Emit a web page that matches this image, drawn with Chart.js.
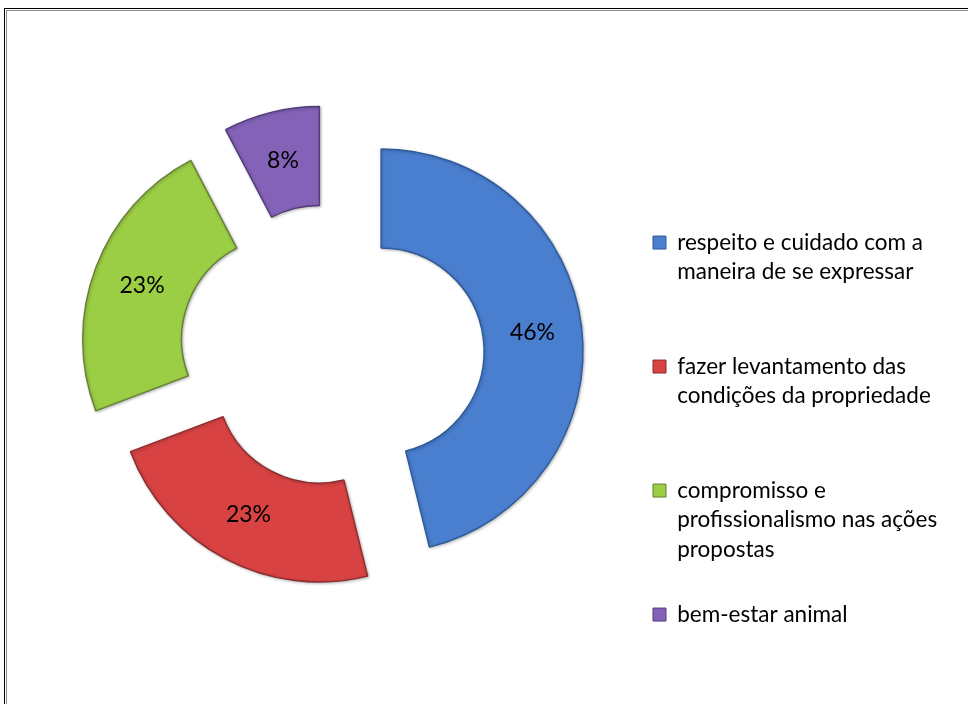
<!DOCTYPE html>
<html lang="pt-BR">
<head>
<meta charset="utf-8">
<title>Rosca</title>
<script src="https://cdn.jsdelivr.net/npm/chart.js@4.4.1/dist/chart.umd.min.js"></script>
<style>
  html, body { margin: 0; padding: 0; background: #fff; }
  #wrap { position: relative; width: 968px; height: 704px; overflow: hidden; }
  .frame-outer { position: absolute; left: 3.5px; top: 7.5px; right: -20px; bottom: -20px;
                 border-left: 1.5px solid #000; border-top: 1.5px solid #000; }
  .frame-inner { position: absolute; left: 6px; top: 10px; right: -20px; bottom: -20px;
                 border-left: 1.5px solid #8c8c8c; border-top: 1.5px solid #8c8c8c; }
  canvas { position: absolute; left: 0; top: 0; }
</style>
</head>
<body>
<div id="wrap">
  <div class="frame-outer"></div>
  <div class="frame-inner"></div>
  <canvas id="chart" width="968" height="704"></canvas>
</div>
<script>
// answers (number of mentions per category)
const categories = [
    ['respeito e cuidado com a', 'maneira de se expressar'],
    ['fazer levantamento das', 'condições da propriedade'],
    ['compromisso e', 'profissionalismo nas ações', 'propostas'],
    ['bem-estar animal']
];
const counts = [6, 3, 3, 1];

const sliceColors = ['#4A7ECF', '#D84242', '#9BCD45', '#8462B8'];
const edgeColors = ['#2D5B98', '#8B2E2E', '#667F33', '#503C78'];

const { DoughnutController, ArcElement } = Chart;

// Arc that is pushed out along its middle angle by `explode` pixels, without reshaping it
class ExplodedArc extends ArcElement {
    static id = 'explodedArc';
    static defaults = { explode: 0 };

    draw(ctx) {
        const push = this.options.explode || 0;
        const mid = (this.startAngle + this.endAngle) / 2;
        ctx.save();
        ctx.translate(Math.cos(mid) * push, Math.sin(mid) * push);
        ctx.shadowColor = 'rgba(0, 0, 0, 0.25)';
        ctx.shadowBlur = 3;
        ctx.shadowOffsetX = 1;
        ctx.shadowOffsetY = 1;
        super.draw(ctx);
        ctx.restore();
    }
}

class ExplodedDoughnut extends DoughnutController {
    static id = 'explodedDoughnut';
    static defaults = { dataElementType: 'explodedArc' };
}

Chart.register(ExplodedArc, ExplodedDoughnut);

// percentage written in the middle of every slice
const sliceLabels = {
    id: 'sliceLabels',
    afterDatasetsDraw(chart) {
        const ctx = chart.ctx;
        const meta = chart.getDatasetMeta(0);
        const total = counts.reduce((a, b) => a + b, 0);
        ctx.save();
        ctx.font = '23px Lato';
        ctx.fillStyle = '#000';
        ctx.textAlign = 'center';
        ctx.textBaseline = 'middle';
        meta.data.forEach((arc, i) => {
            const mid = (arc.startAngle + arc.endAngle) / 2;
            const r = (arc.innerRadius + arc.outerRadius) / 2 + (arc.options.explode || 0);
            const x = arc.x + Math.cos(mid) * r;
            const y = arc.y + Math.sin(mid) * r;
            ctx.fillText(Math.round(counts[i] / total * 100) + '%', x, y);
        });
        ctx.restore();
    }
};

const baseLabels = DoughnutController.overrides.plugins.legend.labels.generateLabels;

new Chart(document.getElementById('chart'), {
    type: 'explodedDoughnut',
    data: {
        labels: categories,
        datasets: [{
            data: counts,
            backgroundColor: sliceColors,
            borderColor: edgeColors,
            borderWidth: 1.4,
            explode: [50, 26, 50, 50]
        }]
    },
    options: {
        responsive: false,
        animation: false,
        events: [],
        radius: 202,
        cutout: '51%',
        layout: {
            padding: { left: 45.3, right: 30.5, top: 45.7, bottom: 35.7 }
        },
        plugins: {
            tooltip: { enabled: false },
            legend: {
                position: 'right',
                align: 'end',
                maxWidth: 320,
                labels: {
                    color: '#000',
                    font: { family: 'Lato', size: 22.5, lineHeight: '29.5px' },
                    boxWidth: 13,
                    boxHeight: 13,
                    padding: 35.5,
                    // every entry but the last gets three lines so the rows stay evenly spaced
                    generateLabels(chart) {
                        const items = baseLabels(chart);
                        const last = items.length - 1;
                        items.forEach((item, i) => {
                            const lines = [].concat(item.text);
                            while (i < last && lines.length < 3) lines.push('');
                            item.text = lines;
                            item.lineWidth = 1;
                        });
                        return items;
                    }
                }
            }
        }
    },
    plugins: [sliceLabels]
});
</script>
</body>
</html>
